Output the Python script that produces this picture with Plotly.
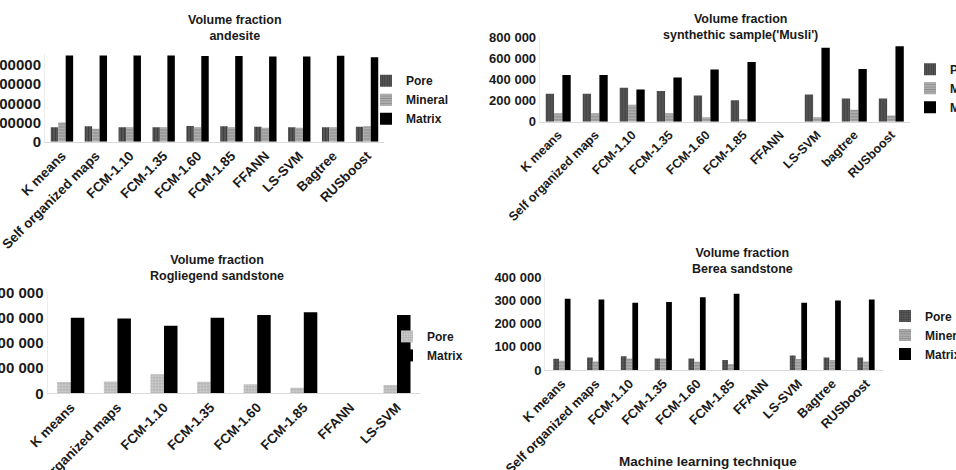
import plotly.graph_objects as go

# ---------------- data ----------------
cats_andesite = ["K means", "Self organized maps", "FCM-1.10", "FCM-1.35", "FCM-1.60",
                 "FCM-1.85", "FFANN", "LS-SVM", "Bagtree", "RUSboost"]
andesite_pore = [75000, 80000, 75000, 75000, 82000, 80000, 78000, 75000, 75000, 78000]
andesite_mineral = [100000, 68000, 75000, 75000, 75000, 75000, 73000, 73000, 75000, 80000]
andesite_matrix = [450000, 450000, 450000, 450000, 447000, 447000, 444000, 444000, 448000, 440000]

cats_musli = ["K means", "Self organized maps", "FCM-1.10", "FCM-1.35", "FCM-1.60",
              "FCM-1.85", "FFANN", "LS-SVM", "bagtree", "RUSboost"]
musli_pore = [264000, 264000, 322000, 290000, 248000, 203000, None, 258000, 219000, 219000]
musli_mineral = [81000, 81000, 161000, 81000, 42000, 23000, None, 42000, 113000, 58000]
musli_matrix = [442000, 442000, 306000, 419000, 494000, 565000, None, 700000, 500000, 716000]

cats_rog = ["K means", "Self organized maps", "FCM-1.10", "FCM-1.35", "FCM-1.60",
            "FCM-1.85", "FFANN", "LS-SVM"]
rog_pore = [45000, 47000, 75000, 46000, 36000, 22000, None, 33000]
rog_matrix = [299000, 296000, 268000, 299000, 310000, 321000, None, 310000]

cats_berea = ["K means", "Self organized maps", "FCM-1.10", "FCM-1.35", "FCM-1.60",
              "FCM-1.85", "FFANN", "LS-SVM", "Bagtree", "RUSboost"]
berea_pore = [49000, 54000, 59000, 50000, 50000, 43000, None, 63000, 54000, 54000]
berea_mineral = [40000, 37000, 50000, 50000, 36000, 26000, None, 47000, 43000, 37000]
berea_matrix = [307000, 304000, 290000, 293000, 314000, 329000, None, 290000, 300000, 304000]

titles = ["Volume fraction<br>andesite",
          "Volume fraction<br>synthethic sample('Musli')",
          "Volume fraction<br>Rogliegend sandstone",
          "Volume fraction<br>Berea sandstone"]
x_title = "Machine learning technique"

# ---------------- styles ----------------
FONT = "Liberation Sans, Arial, sans-serif"
W, H = 956, 470

def px_x(p):
    return p / W

def px_y(p):
    return 1 - p / H

STY = {
    "pore": dict(color="#4d4d4d", pattern=dict(shape="|", fgcolor="#2a2a2a", bgcolor="#555555", size=3, solidity=0.35)),
    "mineral": dict(color="#a0a0a0", pattern=dict(shape="-", fgcolor="#6a6a6a", bgcolor="#b0b0b0", size=3, solidity=0.4)),
    "matrix": dict(color="#000000"),
    "pore_dot": dict(color="#b5b5b5", pattern=dict(shape=".", fgcolor="#777777", bgcolor="#cfcfcf", size=3, solidity=0.4)),
    "pore_cross": dict(color="#3a3a3a", pattern=dict(shape="+", fgcolor="#1e1e1e", bgcolor="#5a5a5a", size=3, solidity=0.35)),
}

fig = go.Figure()

panels = [
    dict(cats=cats_andesite, series=[("Pore", andesite_pore, "pore"), ("Mineral", andesite_mineral, "mineral"), ("Matrix", andesite_matrix, "matrix")],
         w=0.22, xd=(45, 384), yd=(141.7, 53.5), yr=[0, 460000], fmt="d", legend="legend", ys=15, xs=13.5),
    dict(cats=cats_musli, series=[("Pore", musli_pore, "pore"), ("Mineral", musli_mineral, "mineral"), ("Matrix", musli_matrix, "matrix")],
         w=0.225, xd=(539.7, 909.8), yd=(121.7, 37.3), yr=[0, 800000], fmt=",d", legend="legend2", ys=13, xs=12.5),
    dict(cats=cats_rog, series=[("Pore", rog_pore, "pore_dot"), ("Matrix", rog_matrix, "matrix")],
         w=0.29, xd=(47.5, 420.3), yd=(393.3, 292.3), yr=[0, 400000], fmt=",d", legend="legend3", ys=15, xs=13.5),
    dict(cats=cats_berea, series=[("Pore", berea_pore, "pore_cross"), ("Mineral", berea_mineral, "mineral"), ("Matrix", berea_matrix, "matrix")],
         w=0.17, xd=(545, 882.9), yd=(370, 277.3), yr=[0, 400000], fmt=",d", legend="legend4", ys=13, xs=13),
]

for i, p in enumerate(panels):
    k = "" if i == 0 else str(i + 1)
    n = len(p["series"])
    for j, (name, vals, sty) in enumerate(p["series"]):
        fig.add_trace(go.Bar(
            x=p["cats"], y=vals, name=name,
            xaxis="x" + k, yaxis="y" + k,
            width=p["w"], offset=-n * p["w"] / 2 + j * p["w"],
            marker=dict(**STY[sty], line=dict(width=0)),
            legend=p["legend"],
        ))
    fig.update_layout(**{
        "xaxis" + k: dict(domain=[px_x(p["xd"][0]), px_x(p["xd"][1])], anchor="y" + k,
                          showline=True, linecolor="#d9d9d9", linewidth=1, ticks="",
                          tickangle=-45, automargin=False, showgrid=False,
                          tickfont=dict(family=FONT, size=p["xs"], color="#1a1a1a", weight="bold")),
        "yaxis" + k: dict(domain=[px_y(p["yd"][0]), px_y(p["yd"][1])], anchor="x" + k,
                          range=p["yr"], dtick=(100000 if i != 1 else 200000),
                          tickformat=p["fmt"], showline=True, linecolor="#ececec", linewidth=1,
                          showgrid=False, zeroline=False, ticks="", automargin=False,
                          tickfont=dict(family=FONT, size=p["ys"], color="#1a1a1a", weight="bold")),
    })

leg_common = dict(font=dict(family=FONT, size=12, color="#1a1a1a", weight="bold"),
                  bgcolor="rgba(0,0,0,0)", xanchor="left", yanchor="middle",
                  itemclick=False, itemdoubleclick=False)
fig.update_layout(
    legend=dict(x=px_x(366), y=px_y(99.7), **leg_common),
    legend2=dict(x=px_x(910), y=px_y(88.3), **leg_common),
    legend3=dict(x=px_x(387), y=px_y(345.9), **leg_common),
    legend4=dict(x=px_x(885), y=px_y(335), **leg_common),
)

title_pos = [(235, 27.5), (740, 27), (217, 268), (742, 261)]
for t, (cx, cy) in zip(titles, title_pos):
    fig.add_annotation(text=t, x=px_x(cx), y=px_y(cy), xref="paper", yref="paper",
                       showarrow=False, xanchor="center", yanchor="middle",
                       font=dict(family=FONT, size=12.5, color="#1a1a1a", weight="bold"))

fig.add_annotation(text=x_title, x=px_x(708), y=px_y(461), xref="paper", yref="paper",
                   showarrow=False, xanchor="center", yanchor="middle",
                   font=dict(family=FONT, size=13.5, color="#1a1a1a", weight="bold"))

fig.update_layout(
    width=W, height=H,
    margin=dict(l=0, r=0, t=0, b=0, autoexpand=False),
    paper_bgcolor="white", plot_bgcolor="white",
    separators=". ",
    barmode="group",
    showlegend=True,
)

fig.write_html("out.html")
